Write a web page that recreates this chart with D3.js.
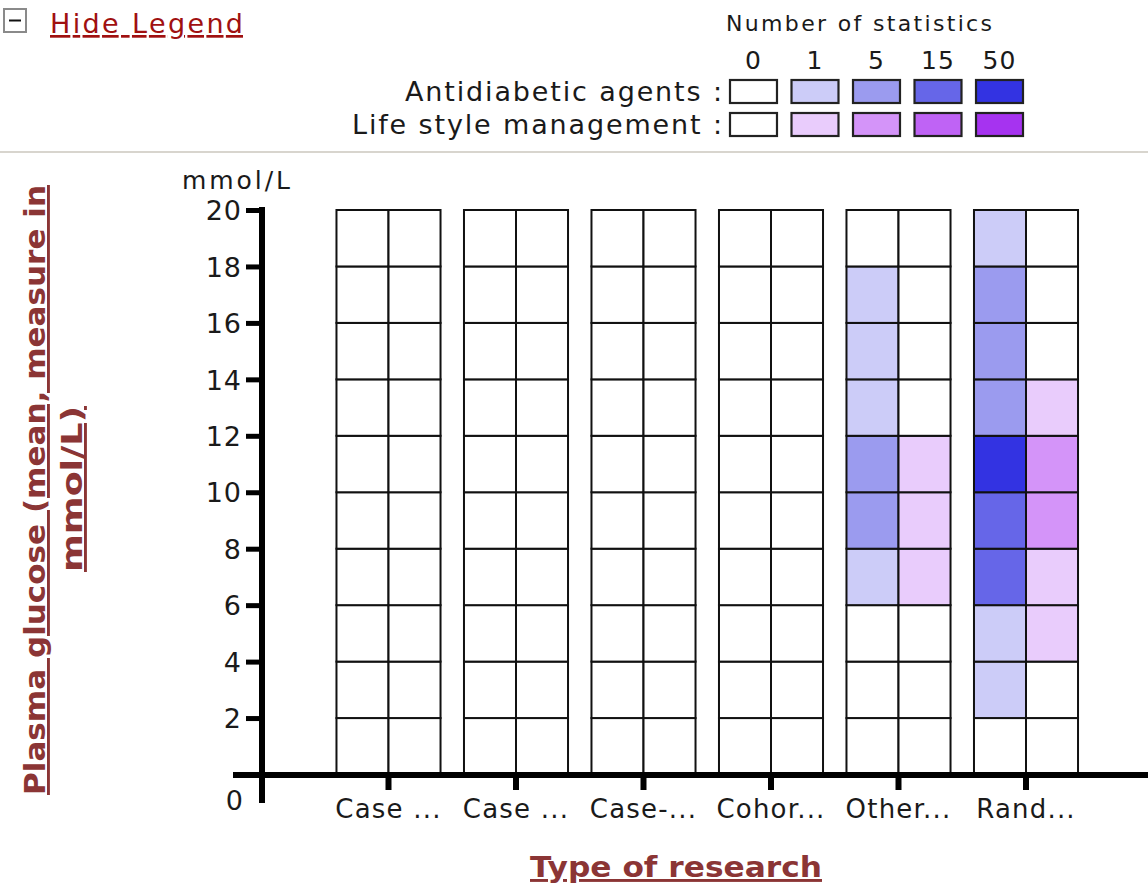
<!DOCTYPE html>
<html>
<head>
<meta charset="utf-8">
<script src="https://cdn.jsdelivr.net/npm/d3@7"></script>
<style>
  html, body { margin: 0; padding: 0; background: #fff; }
  svg { display: block; }
  text { font-family: "DejaVu Sans", Verdana, sans-serif; }
</style>
</head>
<body>
<svg id="chart" width="1148" height="886"></svg>
<script>
// ---------- data ----------
const categories = ["Case report", "Case series", "Case-control", "Cohort", "Other", "Randomized"];
const tickLabels = ["Case ...", "Case ...", "Case-...", "Cohor...", "Other...", "Rand..."];
const series = ["Antidiabetic agents", "Life style management"];
const binStarts = [0, 2, 4, 6, 8, 10, 12, 14, 16, 18]; // mmol/L, each bin 2 wide
const yTicks = [2, 4, 6, 8, 10, 12, 14, 16, 18, 20];
const legendLevels = [0, 1, 5, 15, 50];
const antidiabeticColors = ["#ffffff", "#ccccf8", "#9b9bef", "#6666e8", "#3333e2"];
const lifestyleColors = ["#ffffff", "#e9ccfc", "#d494f9", "#bf63f5", "#a633f0"];

// number of statistics per bin (bins 0-2 ... 18-20), per category
const antidiabeticCounts = [
  [0, 0, 0, 0, 0, 0, 0, 0, 0, 0],
  [0, 0, 0, 0, 0, 0, 0, 0, 0, 0],
  [0, 0, 0, 0, 0, 0, 0, 0, 0, 0],
  [0, 0, 0, 0, 0, 0, 0, 0, 0, 0],
  [0, 0, 0, 2, 6, 7, 3, 2, 1, 0],
  [0, 2, 3, 18, 20, 52, 9, 8, 7, 2]
];
const lifestyleCounts = [
  [0, 0, 0, 0, 0, 0, 0, 0, 0, 0],
  [0, 0, 0, 0, 0, 0, 0, 0, 0, 0],
  [0, 0, 0, 0, 0, 0, 0, 0, 0, 0],
  [0, 0, 0, 0, 0, 0, 0, 0, 0, 0],
  [0, 0, 0, 2, 3, 2, 0, 0, 0, 0],
  [0, 0, 2, 3, 6, 7, 2, 0, 0, 0]
];

// ---------- build ----------
const svg = d3.select("#chart");
const titleColor = "#8b3535";
const textColor = "#1a1a1a";

const y = d3.scaleLinear().domain([0, 20]).range([774.5, 210]);
const x = d3.scaleBand().domain(categories).range([324.75, 1089.75])
  .paddingInner(0.184).paddingOuter(0.092);
const xs = d3.scaleBand().domain(series).range([0, x.bandwidth()]);
const colorScales = {
  "Antidiabetic agents": d3.scaleThreshold().domain([1, 5, 15, 50]).range(antidiabeticColors),
  "Life style management": d3.scaleThreshold().domain([1, 5, 15, 50]).range(lifestyleColors)
};
const countsBy = { "Antidiabetic agents": antidiabeticCounts, "Life style management": lifestyleCounts };

// top toggle
const tog = svg.append("g");
tog.append("rect").attr("x", 4).attr("y", 9).attr("width", 22).attr("height", 23)
  .attr("fill", "#fff").attr("stroke", "#8a8a8a").attr("stroke-width", 2);
tog.append("line").attr("x1", 9).attr("x2", 21).attr("y1", 20.5).attr("y2", 20.5)
  .attr("stroke", "#111").attr("stroke-width", 2);
svg.append("text").attr("x", 50).attr("y", 33).text("Hide Legend")
  .attr("font-size", 27).attr("fill", "#a01010").attr("textLength", 193)
  .attr("lengthAdjust", "spacing").style("text-decoration", "underline");

// legend
const lx = d3.scaleBand().domain(legendLevels).range([730, 1023]).paddingInner(0.236);
svg.append("text").attr("x", 726).attr("y", 31)
  .attr("font-size", 22).attr("fill", textColor).attr("textLength", 266)
  .attr("lengthAdjust", "spacing").text("Number of statistics");
svg.append("g").selectAll("text").data(legendLevels).join("text")
  .attr("x", d => lx(d) + lx.bandwidth() / 2).attr("y", 69).attr("text-anchor", "middle")
  .attr("font-size", 25).attr("fill", textColor).attr("letter-spacing", 1).text(d => d);
const legendLabelWidths = [317, 370];
series.forEach((s, i) => {
  const yy = 80 + i * 33;
  svg.append("text").attr("x", 722 - legendLabelWidths[i]).attr("y", yy + 21)
    .attr("font-size", 27).attr("fill", textColor)
    .attr("textLength", legendLabelWidths[i]).attr("lengthAdjust", "spacing").text(s + " :");
  svg.append("g").selectAll("rect").data(legendLevels).join("rect")
    .attr("x", d => lx(d)).attr("y", yy).attr("width", lx.bandwidth()).attr("height", 23)
    .attr("fill", d => colorScales[s](d)).attr("stroke", "#222").attr("stroke-width", 2.2);
});

// separator
svg.append("line").attr("x1", 0).attr("x2", 1148).attr("y1", 152).attr("y2", 152)
  .attr("stroke", "#d8d5ce").attr("stroke-width", 2);

// cells
const cells = [];
categories.forEach((c, ci) => {
  series.forEach(s => {
    binStarts.forEach((b, bi) => {
      cells.push({ c, s, b, v: countsBy[s][ci][bi] });
    });
  });
});
svg.append("g").selectAll("rect").data(cells).join("rect")
  .attr("x", d => x(d.c) + xs(d.s))
  .attr("y", d => y(d.b + 2))
  .attr("width", xs.bandwidth())
  .attr("height", d => y(d.b) - y(d.b + 2))
  .attr("fill", d => colorScales[d.s](d.v))
  .attr("stroke", "#111").attr("stroke-width", 2);

// y axis
const yAxis = svg.append("g").attr("transform", "translate(262,0)")
  .call(d3.axisLeft(y).tickValues(yTicks).tickSize(16).tickPadding(4));
yAxis.select(".domain").remove();
yAxis.selectAll(".tick line").attr("stroke", "#000").attr("stroke-width", 5);
yAxis.selectAll(".tick text").attr("font-size", 27).attr("fill", textColor)
  .attr("letter-spacing", 1)
  .attr("font-family", "DejaVu Sans, Verdana, sans-serif").attr("dy", "0.36em");
svg.append("line").attr("x1", 262).attr("x2", 262).attr("y1", 207).attr("y2", 803)
  .attr("stroke", "#000").attr("stroke-width", 6);
svg.append("text").attr("x", 243).attr("y", 810).attr("text-anchor", "end")
  .attr("font-size", 27).attr("fill", textColor).text("0");
svg.append("text").attr("x", 182).attr("y", 189).attr("font-size", 25).attr("fill", textColor)
  .attr("textLength", 108).attr("lengthAdjust", "spacing").text("mmol/L");

// x axis
const xAxis = svg.append("g").attr("transform", "translate(0,775)")
  .call(d3.axisBottom(x).tickSize(15).tickPadding(10).tickFormat((d, i) => tickLabels[i]));
xAxis.select(".domain").remove();
xAxis.selectAll(".tick line").attr("stroke", "#000").attr("stroke-width", 6);
xAxis.selectAll(".tick text").attr("font-size", 26).attr("fill", textColor)
  .attr("letter-spacing", 1.2)
  .attr("font-family", "DejaVu Sans, Verdana, sans-serif");
svg.append("line").attr("x1", 233).attr("x2", 1148).attr("y1", 775).attr("y2", 775)
  .attr("stroke", "#000").attr("stroke-width", 6);

// axis titles
svg.append("text").attr("x", 530).attr("y", 877)
  .attr("font-size", 29).attr("font-weight", "bold").attr("fill", titleColor)
  .attr("textLength", 292).attr("lengthAdjust", "spacingAndGlyphs")
  .style("text-decoration", "underline").text("Type of research");
svg.append("text").attr("transform", "translate(45,795) rotate(-90)")
  .attr("font-size", 29).attr("font-weight", "bold").attr("fill", titleColor)
  .attr("textLength", 610).attr("lengthAdjust", "spacingAndGlyphs")
  .style("text-decoration", "underline").text("Plasma glucose (mean, measure in");
svg.append("text").attr("transform", "translate(82,572) rotate(-90)")
  .attr("font-size", 29).attr("font-weight", "bold").attr("fill", titleColor)
  .attr("textLength", 166).attr("lengthAdjust", "spacingAndGlyphs")
  .style("text-decoration", "underline").text("mmol/L)");
</script>
</body>
</html>
